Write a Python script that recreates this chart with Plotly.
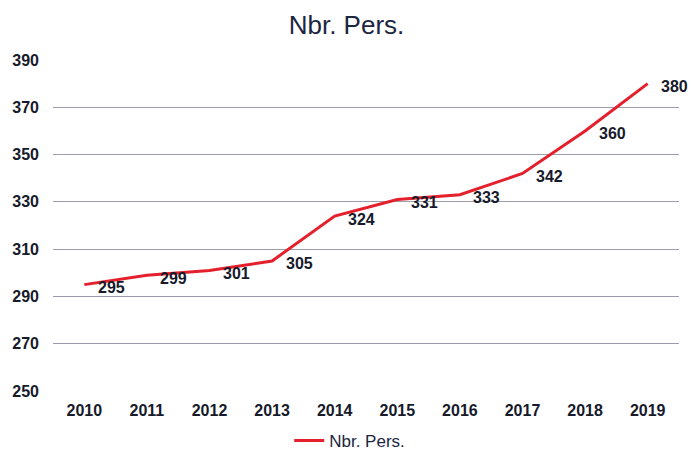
import plotly.graph_objects as go

years = ["2010", "2011", "2012", "2013", "2014", "2015", "2016", "2017", "2018", "2019"]
nbr_pers = [295, 299, 301, 305, 324, 331, 333, 342, 360, 380]
y_ticks = [250, 270, 290, 310, 330, 350, 370, 390]

FONT = "Liberation Sans, Arial"
DARK = "#161a2a"

fig = go.Figure()
fig.add_trace(go.Scatter(
    x=years, y=nbr_pers, mode="lines", name="Nbr. Pers.",
    line=dict(color="#e3202b", width=3),
))

for i, v in enumerate(nbr_pers):
    fig.add_annotation(x=i, y=v, xref="x", yref="y", text=str(v), showarrow=False,
                       xanchor="center", yanchor="middle", xshift=27, yshift=-3,
                       font=dict(family=FONT, size=16, color=DARK, weight="bold"))

fig.update_layout(
    width=693, height=452,
    margin=dict(l=53, r=14, t=60, b=61, autoexpand=False),
    paper_bgcolor="white", plot_bgcolor="white",
    title=dict(text="Nbr. Pers.", x=0.5, xanchor="center", y=0.945, yanchor="middle",
               font=dict(family=FONT, size=26, color="#1c2640")),
    showlegend=True,
    legend=dict(orientation="h", x=0.474, xanchor="center", y=-0.151, yanchor="middle",
                font=dict(family=FONT, size=17, color="#1c2640")),
    xaxis=dict(type="category", range=[-0.5, len(years) - 0.5], showgrid=False,
               zeroline=False, showline=False,
               tickfont=dict(family=FONT, size=16, color=DARK, weight="bold"),
               ticks="", ticklabelstandoff=8),
    yaxis=dict(range=[250, 390], tickvals=y_ticks, showgrid=True, gridcolor="#9c9cae", gridwidth=1,
               zeroline=False, showline=False, ticks="", ticklabelstandoff=13,
               tickfont=dict(family=FONT, size=16, color=DARK, weight="bold")),
)

# remove the browser's default 8px body margin so the figure fills the window exactly
fig.write_html("out.html", config={"displayModeBar": False},
               post_script="document.body.style.margin='0';")
